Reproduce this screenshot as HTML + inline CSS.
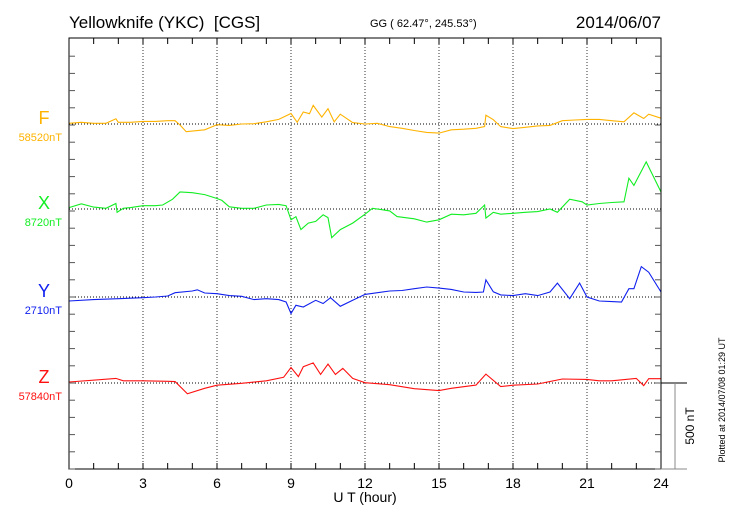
<!DOCTYPE html>
<html><head><meta charset="utf-8"><style>
body{margin:0;background:#fff;}
svg{display:block;font-family:"Liberation Sans",sans-serif;}
</style></head><body>
<svg id="c" width="730" height="520" xmlns="http://www.w3.org/2000/svg">
<text x="69" y="28" font-size="17" style="white-space:pre">Yellowknife (YKC)  [CGS]</text>
<text x="370" y="27" font-size="11">GG ( 62.47°, 245.53°)</text>
<text x="661" y="28" font-size="17" text-anchor="end">2014/06/07</text>
<g id="grid"></g>
<g id="traces"></g>
<rect x="69" y="38" width="592" height="431" fill="none" stroke="#000" stroke-width="1"/>
<g id="axes"></g>
<text x="365" y="502" font-size="14" text-anchor="middle">U T (hour)</text>
<line x1="661" y1="383" x2="687" y2="383" stroke="#000"/>
<line x1="661" y1="469" x2="687" y2="469" stroke="#888"/>
<line x1="675" y1="383" x2="675" y2="469" stroke="#888"/>
<text transform="translate(694,426) rotate(-90)" font-size="12" text-anchor="middle">500 nT</text>
<text transform="translate(725,400) rotate(-90)" font-size="9" text-anchor="middle">Plotted at 2014/07/08 01:29 UT</text>
</svg>
<script>
const xTicks=[0,3,6,9,12,15,18,21,24];
const fH=[0,0.5,1,1.5,1.9,2,2.5,3,3.5,4,4.3,4.5,4.75,5.5,6,6.5,7,7.5,8,8.5,9,9.25,9.5,9.75,9.9,10.25,10.5,10.75,11,11.5,12,12.5,13,13.5,14,14.5,15,15.5,16,16.5,16.85,16.9,17.2,17.5,18,18.5,19,19.5,20,20.5,21,21.5,22,22.5,22.9,23.3,23.5,24];
const fV=[4,10,4,4,30,10,10,15,15,19,19,-6,-45,-34,-4,-8,0,2,13,27,61,10,70,60,108,40,89,13,57,8,0,4,-15,-25,-38,-49,-53,-34,-30,-25,-15,51,25,-15,-27,-19,-11,-8,19,23,27,27,19,13,65,32,57,34];
const xH=[0,0.5,1,1.5,1.9,1.95,2.2,2.5,3,3.5,3.8,4.2,4.5,5,5.5,6,6.2,6.5,7,7.5,8,8.5,8.8,9,9.2,9.4,9.7,10,10.3,10.5,10.65,11,11.5,12,12.3,13,13.3,14,14.5,15,15.5,16,16.5,16.85,16.9,17.2,17.5,18,18.5,19,19.5,19.8,20.3,20.8,21,21.5,22,22.5,22.7,22.9,23.4,24];
const xV=[8,30,11,4,32,-19,4,8,19,19,23,57,99,95,84,61,50,13,4,4,23,27,19,-63,-45,-120,-82,-72,-34,-50,-167,-120,-82,-30,4,-11,-44,-57,-76,-63,-30,-34,-25,23,-53,-19,-30,-25,-19,-15,0,-19,57,42,23,32,38,42,179,137,274,99];
const yH=[0,1,2,3,3.5,4,4.3,5,5.2,5.5,6,6.5,7,7.5,8,8.5,8.8,9,9.2,9.5,10,10.3,10.6,11,11.5,12,13,13.5,14,14.5,15,15.5,16,16.5,16.8,16.9,17.2,17.5,18,18.5,19,19.5,19.8,20.3,20.7,21,21.5,22,22.4,22.7,22.9,23.2,23.5,24];
const yV=[-23,-15,-10,-4,0,6,25,35,42,23,19,8,4,-15,-10,-15,-29,-96,-48,-58,-19,-38,-4,-54,-19,15,35,38,48,58,52,44,29,27,29,100,30,12,8,19,8,29,81,-10,81,0,-23,-27,-29,48,48,177,144,29];
const zH=[0,1.9,2.2,3,4,4.3,4.8,5.5,6,7,8,8.7,9,9.3,9.5,9.9,10.2,10.5,10.8,11.1,11.5,12,13,14,15,15.5,16.5,16.9,17.5,18,19,20,21,21.5,22,23,23.3,23.5,24];
const zV=[6,27,13,13,10,8,-63,-31,-13,-2,13,33,90,37,95,117,50,110,50,85,27,2,-10,-33,-44,-31,-12,52,-21,-13,-6,23,21,13,13,27,-15,25,25];
const X0=69,X1=661,PXNT=86/500;
const sx=h=>X0+(X1-X0)*h/24;
const NS="http://www.w3.org/2000/svg";
function mk(t,a,p){const e=document.createElementNS(NS,t);for(const k in a)e.setAttribute(k,a[k]);p.appendChild(e);return e;}
const grid=document.getElementById('grid'),axes=document.getElementById('axes'),tr=document.getElementById('traces');
xTicks.forEach(h=>{
 if(h>0&&h<24){const l=mk('line',{x1:sx(h),x2:sx(h),y1:38,y2:469,stroke:'#000','stroke-dasharray':'1,2','stroke-width':0.8},grid);
 
 }
 const t=mk('text',{x:sx(h),y:488,'font-size':14,'text-anchor':'middle'},axes);t.textContent=h;
 
 
});
for(let h=1;h<24;h++){
 [[469,463],[38,44]].forEach(([a,b])=>{const l=mk('line',{x1:sx(h),x2:sx(h),y1:a,y2:b,stroke:'#000'},axes);
 
 });
}
for(let y=469;y>40;y-=86/5){
 [[69,75],[661,655]].forEach(([a,b])=>{const l=mk('line',{x1:a,x2:b,y1:y,y2:y,stroke:'#555'},axes);
 
 });
}
const series=[
 {n:'f',H:fH,V:fV,base:124,c:'#ffb300',lab:'F',val:'58520nT'},
 {n:'x',H:xH,V:xV,base:209,c:'#11ee22',lab:'X',val:'8720nT'},
 {n:'y',H:yH,V:yV,base:297,c:'#1020ee',lab:'Y',val:'2710nT'},
 {n:'z',H:zH,V:zV,base:383,c:'#ff1010',lab:'Z',val:'57840nT'}];
series.forEach(s=>{
 const b=mk('line',{x1:69,x2:661,y1:s.base,y2:s.base,stroke:'#000','stroke-dasharray':'1,2','stroke-width':0.9},grid);
 
 
 const pts=s.H.map((h,i)=>sx(h).toFixed(1)+','+(s.base-s.V[i]*PXNT).toFixed(1)).join(' ');
 const p=mk('polyline',{points:pts,fill:'none',stroke:s.c,'stroke-width':1.1},tr);
 
 
 const t=mk('text',{x:44,y:s.base-0,'font-size':18,'text-anchor':'middle',fill:s.c},axes);t.textContent=s.lab;
 
 
 const v=mk('text',{x:62,y:s.base+17,'font-size':11,'text-anchor':'end',fill:s.c},axes);v.textContent=s.val;
 
 
});
</script>
</body></html>
